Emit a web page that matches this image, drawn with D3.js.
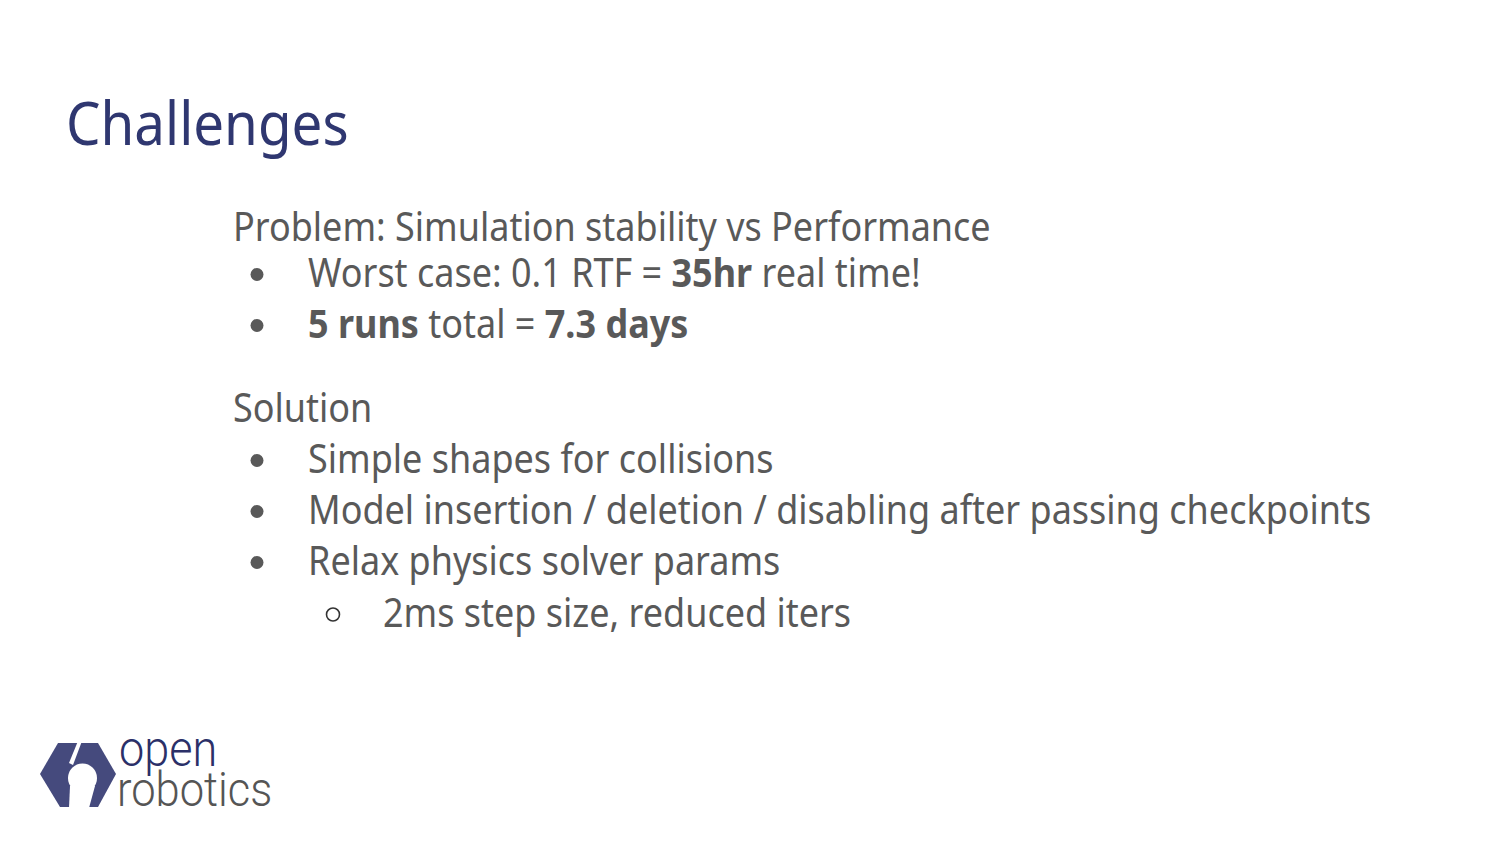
<!DOCTYPE html>
<html>
<head>
<meta charset="utf-8">
<script src="https://cdn.jsdelivr.net/npm/d3@7"></script>
<style>
  html, body { margin: 0; padding: 0; background: #fff; }
  svg { display: block; }
</style>
</head>
<body>
<svg id="slide" width="1500" height="844"></svg>
<script>
// slide content
var title = "Challenges";

// each line: level 0 = heading, 1 = bullet, 2 = sub bullet; runs are [text, bold]
var lines = [
	{level: 0, y: 241, runs: [["Problem: Simulation stability vs Performance", false]]},
	{level: 1, y: 287, runs: [["Worst case: 0.1 RTF = ", false], ["35hr", true], [" real time!", false]]},
	{level: 1, y: 338, runs: [["5 runs", true], [" total = ", false], ["7.3 days", true]]},
	{level: 0, y: 422, runs: [["Solution", false]]},
	{level: 1, y: 473, runs: [["Simple shapes for collisions", false]]},
	{level: 1, y: 524, runs: [["Model insertion / deletion / disabling after passing checkpoints", false]]},
	{level: 1, y: 575, runs: [["Relax physics solver params", false]]},
	{level: 2, y: 627, runs: [["2ms step size, reduced iters", false]]}
];

var textX = {0: 233, 1: 308, 2: 383};
var bulletX = {1: 257, 2: 333};

var navy = "#2f3770",
	grey = "#595959";

// the slide image is a little taller than wide, so stretch text vertically
var stretch = 1.09;

function place(x, y) {
	return "translate(" + x + "," + y + ") scale(1," + stretch + ")";
}

var svg = d3.select("#slide");

svg.append("text")
	.attr("transform", place(66, 145))
	.attr("font-family", "'Noto Sans', sans-serif")
	.attr("font-size", 54.7)
	.attr("fill", navy)
	.text(title);

var rows = svg.selectAll("g.row").data(lines).enter().append("g")
	.attr("class", "row");

rows.append("text")
	.attr("transform", function(d) {return place(textX[d.level], d.y)})
	.attr("font-family", "'Noto Sans', sans-serif")
	.attr("font-size", 36)
	.attr("fill", grey)
	.selectAll("tspan").data(function(d) {return d.runs}).enter().append("tspan")
		.attr("font-weight", function(r) {return r[1] ? 700 : 400})
		.attr("xml:space", "preserve")
		.style("white-space", "pre")
		.text(function(r) {return r[0]});

// bullets
rows.filter(function(d) {return d.level > 0}).append("circle")
	.attr("cx", function(d) {return bulletX[d.level]})
	.attr("cy", function(d) {return d.y - 12.5})
	.attr("r", 6.5)
	.attr("fill", function(d) {return d.level === 1 ? grey : "none"})
	.attr("stroke", function(d) {return d.level === 1 ? "none" : "#333"})
	.attr("stroke-width", 1.6);

// logo
var logo = svg.append("g").attr("transform", "translate(36,738)");

var mask = svg.append("defs").append("mask").attr("id", "keyhole");
mask.append("rect").attr("width", 100).attr("height", 80).attr("fill", "#fff");
mask.append("circle").attr("cx", 46.5).attr("cy", 40).attr("r", 14.5).attr("fill", "#000");
mask.append("path").attr("d", "M34,48 L33,70 L53,70 L59,48 Z").attr("fill", "#000");
mask.append("path").attr("d", "M42,3 L46,3 L37,27 L33,25 Z").attr("fill", "#000");

logo.append("path")
	.attr("d", "M22,5 L62,5 L80,36 L62,69 L24,69 L4,36 Z")
	.attr("fill", "#454a7d")
	.attr("mask", "url(#keyhole)");

svg.append("text")
	.attr("transform", place(119, 766))
	.attr("font-family", "Roboto, sans-serif")
	.attr("font-weight", 300)
	.attr("font-size", 45)
	.attr("fill", "#2b3068")
	.text("open");

svg.append("text")
	.attr("transform", place(117, 806))
	.attr("font-family", "Roboto, sans-serif")
	.attr("font-weight", 300)
	.attr("font-size", 43.5)
	.attr("fill", "#555")
	.text("robotics");
</script>
</body>
</html>
